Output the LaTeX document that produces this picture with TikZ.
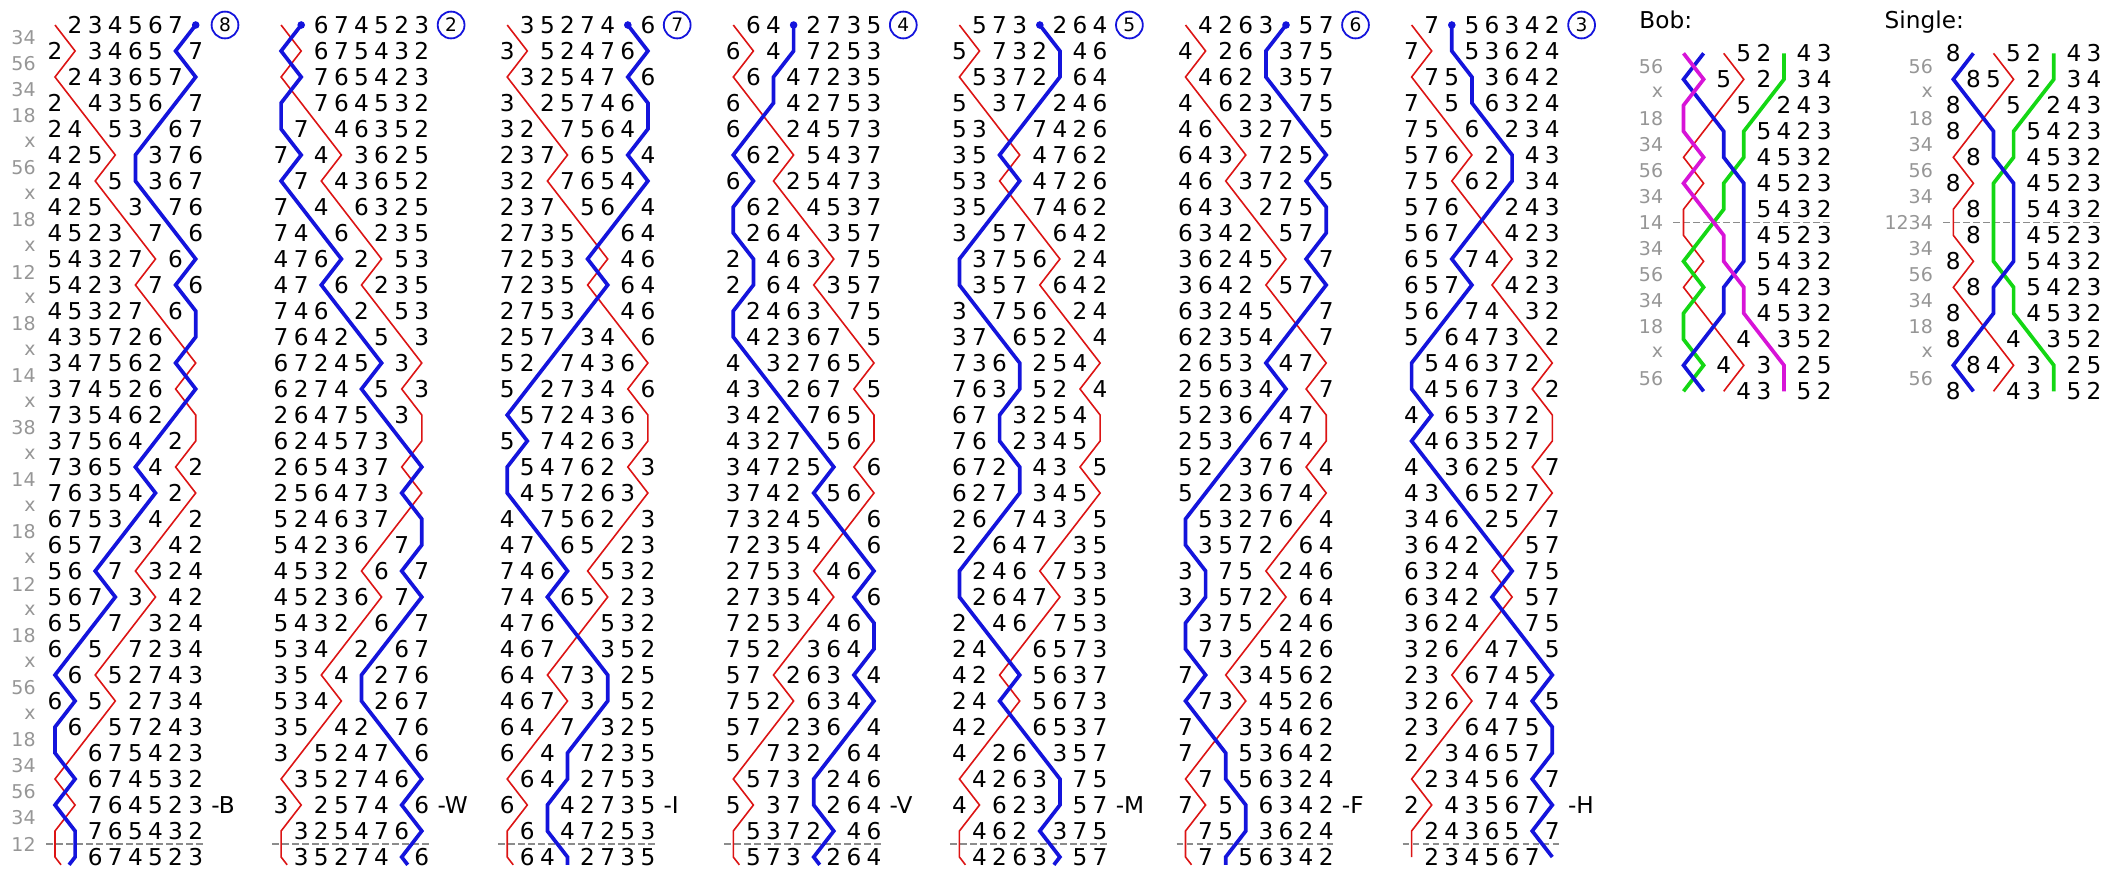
\documentclass[tikz,border=0pt]{standalone}
\usepackage{fontspec}
\setmainfont{DejaVu Sans}
\usetikzlibrary{calc}

\definecolor{trebred}{RGB}{220,20,20}
\definecolor{tenblue}{RGB}{20,20,220}
\definecolor{linegreen}{RGB}{20,215,20}
\definecolor{linemagenta}{RGB}{215,20,215}
\definecolor{pngray}{RGB}{150,150,150}
\definecolor{legray}{RGB}{140,140,140}

% place notation of one lead, and of the calls
\def\plainlead{34,56,34,18,x,56,x,18,x,12,x,18,x,14,x,38,x,14,x,18,x,12,x,18,x,56,x,18,34,56,34,12}
\def\boblead{56,x,18,34,56,34,14,34,56,34,18,x,56}
\def\singlelead{56,x,18,34,56,34,1234,34,56,34,18,x,56}

% one change on eight bells
\expandafter\def\csname pn@x\endcsname#1#2#3#4#5#6#7#8{#2#1#4#3#6#5#8#7}
\expandafter\def\csname pn@12\endcsname#1#2#3#4#5#6#7#8{#1#2#4#3#6#5#8#7}
\expandafter\def\csname pn@14\endcsname#1#2#3#4#5#6#7#8{#1#3#2#4#6#5#8#7}
\expandafter\def\csname pn@18\endcsname#1#2#3#4#5#6#7#8{#1#3#2#5#4#7#6#8}
\expandafter\def\csname pn@34\endcsname#1#2#3#4#5#6#7#8{#2#1#3#4#6#5#8#7}
\expandafter\def\csname pn@38\endcsname#1#2#3#4#5#6#7#8{#2#1#3#5#4#7#6#8}
\expandafter\def\csname pn@56\endcsname#1#2#3#4#5#6#7#8{#2#1#4#3#5#6#8#7}
\expandafter\def\csname pn@1234\endcsname#1#2#3#4#5#6#7#8{#1#2#3#4#6#5#8#7}
\newcommand\applypn[1]{\xdef\currow{\csname pn@#1\expandafter\endcsname\currow}}

% which bells are drawn as lines
\expandafter\def\csname ln@main@1\endcsname{red}
\expandafter\def\csname ln@main@8\endcsname{blue}
\expandafter\def\csname ln@bob@1\endcsname{red}
\expandafter\def\csname ln@bob@6\endcsname{green}
\expandafter\def\csname ln@bob@7\endcsname{blue}
\expandafter\def\csname ln@bob@8\endcsname{magenta}
\expandafter\def\csname ln@single@1\endcsname{red}
\expandafter\def\csname ln@single@6\endcsname{green}
\expandafter\def\csname ln@single@7\endcsname{blue}

\newcommand\placebell[2]{%
  \ifcsname ln@\lineset @#2\endcsname
    \edef\lc{\csname ln@\lineset @#2\endcsname}%
    \coordinate (\lc-\blk-\rw) at ({\rowx+20.1*(#1-1)},\rowy);%
    \ifnum\rw=1 \ifnum#2=8 \xdef\startplace{#1}\fi\fi
  \else
    \node[bell] (d-\blk-\rw-#1) at ({\rowx+20.1*(#1-1)},\rowy) {#2};%
  \fi}
\newcommand\drawbells[8]{\placebell{1}{#1}\placebell{2}{#2}\placebell{3}{#3}\placebell{4}{#4}%
  \placebell{5}{#5}\placebell{6}{#6}\placebell{7}{#7}\placebell{8}{#8}}
\newcommand\drawrow{\pgfmathsetmacro\rowy{\rowtop+26*(\rw-1)}\expandafter\drawbells\currow}

\begin{document}
\begin{tikzpicture}[
  x=0.5pt, y=-0.5pt,
  bell/.style={inner sep=0pt, font=\fontsize{11.6}{13}\selectfont},
  pn/.style={anchor=east, inner sep=0pt, text=pngray, font=\fontsize{9.5}{11}\selectfont},
  call/.style={anchor=west, inner sep=0pt, font=\fontsize{11.6}{13}\selectfont},
  title/.style={anchor=base west, inner sep=0pt, font=\fontsize{11.6}{13}\selectfont},
  placeno/.style={circle, draw=tenblue, line width=0.9pt, minimum size=13.4pt, inner sep=0pt, font=\fontsize{9.3}{11}\selectfont},
  redline/.style={draw=trebred, line width=0.8pt},
  blueline/.style={draw=tenblue, line width=1.85pt},
  greenline/.style={draw=linegreen, line width=1.85pt},
  magentaline/.style={draw=linemagenta, line width=1.85pt},
  leline/.style={draw=legray, line width=0.65pt, dash pattern=on 3.3pt off 1.7pt}
]
  \useasboundingbox (0,0) rectangle (2114,880);

  % plain course, one column per lead
  \xdef\currow{12345678}
  \foreach \pnc [count=\k] in \plainlead {\node[pn] (pn-\k) at (36, 26*\k+12) {\pnc};}
  \foreach \call [count=\col] in {B,W,I,V,M,F,H} {
    \edef\blk{\col}\def\lineset{main}\def\rowtop{25}
    \pgfmathsetmacro\rowx{55+226.1*(\col-1)}
    \def\rw{1}\drawrow
    \foreach \pnc [count=\rw from 2] in \plainlead {\applypn{\pnc}\drawrow}
    \coordinate (le-\col-w) at (\rowx-9, 844);
    \coordinate (le-\col-e) at (\rowx+149, 844);
    \draw[leline] (le-\col-w) -- (le-\col-e);
    \node[placeno] (pb-\col) at (\rowx+170, 25) {\startplace};
    \node[call] (call-\col) at (\rowx+211-55, 805) {-\call};
    \fill[tenblue] (blue-\col-1) circle (3.8);
  }
  \foreach \col [evaluate=\col as \nxt using int(\col+1)] in {1,...,6} {
    \draw[redline] (red-\col-1) \foreach \rw in {2,...,33}{ -- (red-\col-\rw)}
      -- ($(red-\col-33)+0.3*(red-\nxt-2)-0.3*(red-\nxt-1)$);
    \draw[blueline] (blue-\col-1) \foreach \rw in {2,...,33}{ -- (blue-\col-\rw)}
      -- ($(blue-\col-33)+0.3*(blue-\nxt-2)-0.3*(blue-\nxt-1)$);
  }
  \draw[redline] (red-7-1) \foreach \rw in {2,...,33}{ -- (red-7-\rw)};
  \draw[blueline] (blue-7-1) \foreach \rw in {2,...,33}{ -- (blue-7-\rw)};

  % bob
  \node[title] (bob-title) at (1639, 28.3) {Bob:};
  \def\lineset{bob}\def\blk{bob}\def\rowtop{53.3}\def\rowx{1683.5}
  \xdef\currow{87152643}
  \def\rw{1}\drawrow
  \foreach \pnc [count=\rw from 2] in \boblead {\applypn{\pnc}\drawrow}
  \foreach \pnc [count=\k] in \boblead {\node[pn] (pn-bob-\k) at (1663.5, 26*\k+40.3) {\pnc};}
  \coordinate (le-bob-w) at (1673, 222.3);
  \coordinate (le-bob-e) at (1832, 222.3);
  \draw[leline] (le-bob-w) -- (le-bob-e);
  \draw[redline] (red-bob-1) \foreach \rw in {2,...,14}{ -- (red-bob-\rw)};
  \draw[greenline] (green-bob-1) \foreach \rw in {2,...,14}{ -- (green-bob-\rw)};
  \draw[blueline] (blue-bob-1) \foreach \rw in {2,...,14}{ -- (blue-bob-\rw)};
  \draw[magentaline] (magenta-bob-1) \foreach \rw in {2,...,14}{ -- (magenta-bob-\rw)};

  % single
  \node[title] (single-title) at (1884.3, 28.3) {Single:};
  \def\lineset{single}\def\blk{single}\def\rowtop{53.3}\def\rowx{1953.3}
  \xdef\currow{87152643}
  \def\rw{1}\drawrow
  \foreach \pnc [count=\rw from 2] in \singlelead {\applypn{\pnc}\drawrow}
  \foreach \pnc [count=\k] in \singlelead {\node[pn] (pn-single-\k) at (1933.3, 26*\k+40.3) {\pnc};}
  \coordinate (le-single-w) at (1943.3, 222.3);
  \coordinate (le-single-e) at (2101.7, 222.3);
  \draw[leline] (le-single-w) -- (le-single-e);
  \draw[redline] (red-single-1) \foreach \rw in {2,...,14}{ -- (red-single-\rw)};
  \draw[greenline] (green-single-1) \foreach \rw in {2,...,14}{ -- (green-single-\rw)};
  \draw[blueline] (blue-single-1) \foreach \rw in {2,...,14}{ -- (blue-single-\rw)};
\end{tikzpicture}
\end{document}
